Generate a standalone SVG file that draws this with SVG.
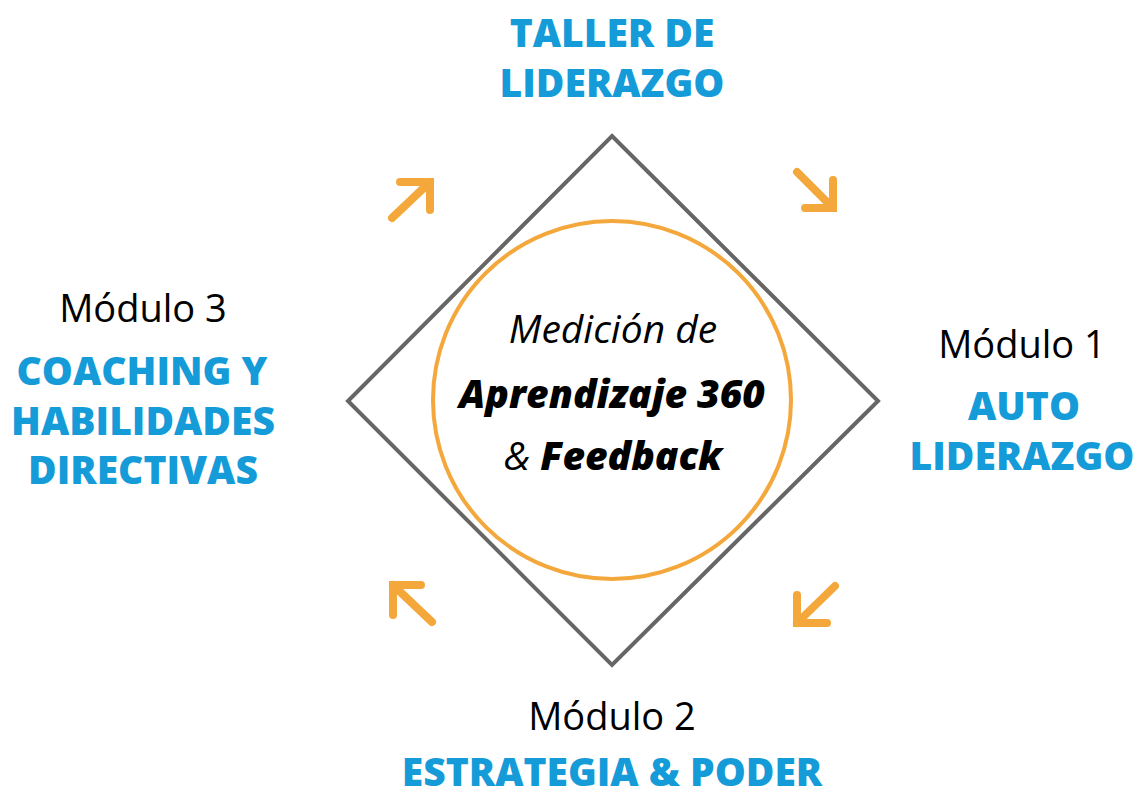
<svg xmlns="http://www.w3.org/2000/svg" width="1137" height="796" viewBox="0 0 1137 796">
<style>
.t{font-family:"Open Sans","Liberation Sans",sans-serif;font-weight:800;fill:#159BD8;font-size:39px;text-anchor:middle}
.m{font-family:"Open Sans","Liberation Sans",sans-serif;font-weight:400;fill:#000;font-size:38px;text-anchor:middle}
.c{font-family:"Open Sans","Liberation Sans",sans-serif;fill:#000;font-style:italic;text-anchor:middle}
.ar{fill:none;stroke:#F4A73B;stroke-width:8;stroke-linecap:round;stroke-linejoin:miter}
</style>
<rect width="1137" height="796" fill="#fff"/>
<g id="frame">
<polygon points="612,136 878,401 612,665 348,401" fill="none" stroke="#666" stroke-width="4"/>
</g>
<g id="center">
<circle cx="612" cy="400" r="179" fill="none" stroke="#F4A73B" stroke-width="4"/>
<text class="c" x="613" y="343" font-size="39" font-weight="400">Medición de</text>
<text class="c" x="612" y="408" font-size="39" font-weight="800">Aprendizaje 360</text>
<text class="c" x="613" y="470" font-size="39"><tspan font-weight="400">&amp; </tspan><tspan font-weight="800">Feedback</tspan></text>
</g>
<g id="connectors">
<path class="ar" d="M392,218 L430,182 M400,182 H430 V210"/>
<path class="ar" d="M797,172 L833,208 M833,180 V208 H805"/>
<path class="ar" d="M432,622 L393,585 M421,585 H393 V615"/>
<path class="ar" d="M835,586 L797,623 M797,595 V623 H827"/>
</g>
<g id="top">
<text class="t" x="612" y="47">TALLER DE</text>
<text class="t" x="612" y="97">LIDERAZGO</text>
</g>
<g id="modulo1">
<text class="m" x="1022" y="358">Módulo 1</text>
<text class="t" x="1024" y="420">AUTO</text>
<text class="t" x="1022" y="470">LIDERAZGO</text>
</g>
<g id="modulo2">
<text class="m" x="612" y="730">Módulo 2</text>
<text class="t" x="612" y="786">ESTRATEGIA &amp; PODER</text>
</g>
<g id="modulo3">
<text class="m" x="143" y="322">Módulo 3</text>
<text class="t" x="142" y="385">COACHING Y</text>
<text class="t" x="143" y="435">HABILIDADES</text>
<text class="t" x="143" y="484">DIRECTIVAS</text>
</g>
</svg>
